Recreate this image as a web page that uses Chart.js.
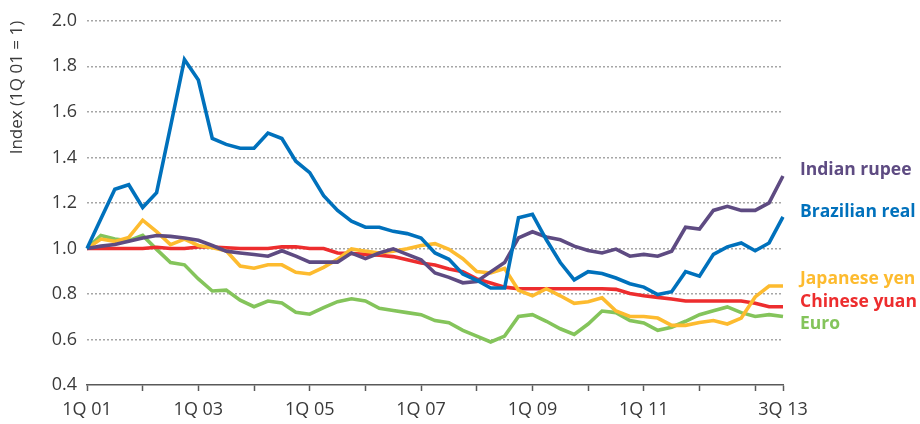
<!DOCTYPE html>
<html>
<head>
<meta charset="utf-8">
<title>Currency index</title>
<script src="https://cdn.jsdelivr.net/npm/chart.js@4.4.0/dist/chart.umd.min.js"></script>
<style>
  html, body { margin: 0; padding: 0; background: #fff; }
  #wrap { width: 920px; height: 424px; }
</style>
</head>
<body>
<div id="wrap"><canvas id="fx-chart" width="920" height="424"></canvas></div>
<script>
// quarters 1Q 01 .. 3Q 13
var quarters = [];
for (var yr = 1; yr <= 13; yr++) {
  for (var q = 1; q <= 4; q++) {
    if (yr === 13 && q > 3) break;
    quarters.push(q + "Q " + (yr < 10 ? "0" + yr : yr));
  }
}
var shownTicks = ["1Q 01", "1Q 03", "1Q 05", "1Q 07", "1Q 09", "1Q 11", "3Q 13"];
var yTicks = [0.4, 0.6, 0.8, 1.0, 1.2, 1.4, 1.6, 1.8, 2.0];

var brazilianReal = [1.00, 1.13, 1.26, 1.28, 1.18, 1.245, 1.535, 1.83, 1.74, 1.483,
  1.457, 1.44, 1.44, 1.507, 1.483, 1.383, 1.333, 1.232, 1.167, 1.12,
  1.093, 1.093, 1.075, 1.065, 1.046, 0.98, 0.952, 0.888, 0.86, 0.826,
  0.826, 1.135, 1.15, 1.038, 0.938, 0.862, 0.898, 0.89, 0.87, 0.845,
  0.83, 0.797, 0.81, 0.898, 0.878, 0.974, 1.007, 1.024, 0.99, 1.024, 1.139];

var indianRupee = [1.00, 1.01, 1.017, 1.031, 1.046, 1.057, 1.053, 1.046, 1.036, 1.013,
  0.988, 0.98, 0.973, 0.966, 0.99, 0.966, 0.94, 0.94, 0.94, 0.98,
  0.955, 0.98, 0.998, 0.974, 0.95, 0.892, 0.873, 0.849, 0.855, 0.897,
  0.938, 1.046, 1.073, 1.05, 1.038, 1.01, 0.991, 0.98, 0.997, 0.966,
  0.974, 0.966, 0.988, 1.093, 1.085, 1.167, 1.185, 1.167, 1.167, 1.2, 1.318];

var japaneseYen = [1.00, 1.041, 1.031, 1.048, 1.124, 1.074, 1.017, 1.041, 1.013, 1.003,
  0.99, 0.923, 0.913, 0.928, 0.928, 0.895, 0.888, 0.917, 0.952, 0.998,
  0.988, 0.98, 0.988, 0.999, 1.013, 1.021, 0.996, 0.955, 0.898, 0.892,
  0.912, 0.816, 0.792, 0.823, 0.792, 0.759, 0.766, 0.783, 0.725, 0.701,
  0.701, 0.694, 0.662, 0.662, 0.675, 0.683, 0.668, 0.694, 0.787, 0.835, 0.835];

var chineseYuan = [1.00, 1.00, 1.00, 1.00, 1.00, 1.005, 1.00, 1.00, 1.006, 1.006,
  1.003, 1.00, 1.00, 1.00, 1.007, 1.007, 1.00, 1.00, 0.98, 0.978,
  0.974, 0.97, 0.964, 0.95, 0.936, 0.927, 0.91, 0.898, 0.866, 0.848,
  0.83, 0.823, 0.823, 0.823, 0.823, 0.823, 0.823, 0.823, 0.82, 0.802,
  0.792, 0.785, 0.778, 0.769, 0.769, 0.769, 0.769, 0.769, 0.759, 0.744, 0.744];

var euro = [1.00, 1.057, 1.041, 1.034, 1.057, 0.996, 0.938, 0.928, 0.866, 0.813,
  0.817, 0.773, 0.744, 0.769, 0.76, 0.72, 0.711, 0.74, 0.766, 0.779,
  0.769, 0.737, 0.727, 0.718, 0.709, 0.683, 0.674, 0.64, 0.615, 0.589,
  0.615, 0.701, 0.709, 0.68, 0.647, 0.622, 0.668, 0.725, 0.718, 0.683,
  0.673, 0.64, 0.654, 0.68, 0.709, 0.726, 0.743, 0.718, 0.701, 0.709, 0.701];

var FONT = "'Open Sans', 'DejaVu Sans', sans-serif";
var TEXT = "#3a3a3a";

function series(label, values, color) {
  return {
    label: label,
    data: values,
    borderColor: color,
    backgroundColor: color,
    borderWidth: 3.6,
    pointRadius: 0,
    tension: 0,
    fill: false
  };
}

// name labels to the right of the lines; y is a baseline in px
var endLabels = [
  { text: "Indian rupee", color: "#5E4B82", y: 175 },
  { text: "Brazilian real", color: "#0071BC", y: 217 },
  { text: "Japanese yen", color: "#FDBB2F", y: 284 },
  { text: "Chinese yuan", color: "#ED2D2E", y: 307 },
  { text: "Euro", color: "#84C45B", y: 329 }
];

var endLabelPlugin = {
  id: "endLabels",
  afterDraw: function(chart) {
    var ctx = chart.ctx;
    ctx.save();
    ctx.font = "bold 17.5px " + FONT;
    ctx.textAlign = "left";
    ctx.textBaseline = "alphabetic";
    endLabels.forEach(function(l) {
      ctx.fillStyle = l.color;
      ctx.fillText(l.text, chart.chartArea.right + 17, l.y);
    });
    ctx.restore();
  }
};

var ctx = document.getElementById("fx-chart");

var chart = new Chart(ctx, {
  type: "line",
  data: {
    labels: quarters,
    datasets: [
      series("Brazilian real", brazilianReal, "#0071BC"),
      series("Indian rupee", indianRupee, "#5E4B82"),
      series("Japanese yen", japaneseYen, "#FDBB2F"),
      series("Chinese yuan", chineseYuan, "#ED2D2E"),
      series("Euro", euro, "#84C45B")
    ]
  },
  options: {
    responsive: false,
    animation: false,
    layout: { padding: { left: 0, right: 137, top: 13, bottom: 0 } },
    plugins: {
      legend: { display: false },
      tooltip: { enabled: false }
    },
    scales: {
      x: {
        type: "category",
        offset: false,
        grid: {
          drawOnChartArea: false,
          drawTicks: true,
          tickLength: 6,
          tickWidth: 1.5,
          tickColor: function(c) {
            var i = c.index;
            return (i % 4 === 0 || i === quarters.length - 1) ? "#595959" : "rgba(0,0,0,0)";
          }
        },
        border: { display: true, color: "#595959", width: 1.5 },
        ticks: {
          autoSkip: false,
          maxRotation: 0,
          padding: 8,
          color: TEXT,
          font: { family: FONT, size: 18 },
          callback: function(v, i) {
            var lab = quarters[i];
            return shownTicks.indexOf(lab) >= 0 ? lab : "";
          }
        },
        afterFit: function(scale) { scale.height = 39; }
      },
      y: {
        min: 0.4,
        max: 2.0,
        afterBuildTicks: function(scale) {
          scale.ticks = yTicks.map(function(v) { return { value: v }; });
        },
        grid: {
          drawTicks: false,
          lineWidth: 1.5,
          color: function(c) {
            return c.tick && c.tick.value <= 0.4 ? "rgba(0,0,0,0)" : "#A6A6A6";
          }
        },
        border: { display: false, dash: [2, 2] },
        ticks: {
          padding: 10,
          color: TEXT,
          font: { family: FONT, size: 18 },
          callback: function(v) { return Number(v).toFixed(1); }
        },
        title: {
          display: true,
          text: "Index (1Q 01 = 1)",
          align: "end",
          color: TEXT,
          font: { family: FONT, size: 17 },
          padding: { top: 7, bottom: 0 }
        },
        afterFit: function(scale) { scale.width = 87; }
      }
    }
  },
  plugins: [endLabelPlugin]
});
</script>
</body>
</html>
